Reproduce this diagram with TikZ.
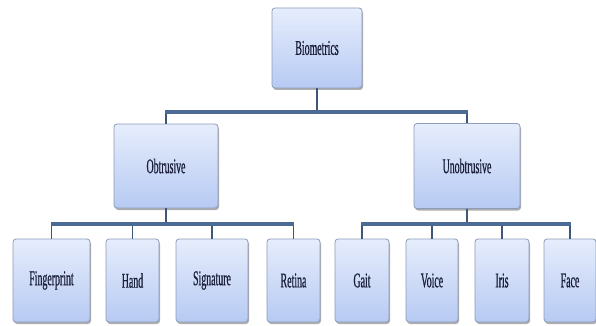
\documentclass[tikz,border=0pt]{standalone}
\usepackage{fontspec}
\newfontfamily\condfont[FakeStretch=0.47,FakeBold=0.6]{Liberation Serif}
\usetikzlibrary{shadows}
\definecolor{boxtop}{HTML}{E6EDFC}
\definecolor{boxbot}{HTML}{B7CAF3}
\definecolor{boxline}{HTML}{8C9CB8}
\definecolor{barcol}{HTML}{4C6B94}
\definecolor{vcol}{HTML}{3E5677}
\definecolor{txtcol}{HTML}{1A1F3A}
\tikzset{
  box/.style={rectangle, rounded corners=3pt, draw=boxline, line width=0.8pt,
    top color=boxtop, bottom color=boxbot,
    drop shadow={shadow xshift=1pt, shadow yshift=-2pt, opacity=0.45, fill=black!70},
    inner sep=0pt, font=\condfont\fontsize{21}{23}\selectfont, text=txtcol},
  hbar/.style={draw=barcol, line width=4pt},
  vbar/.style={draw=vcol, line width=1.8pt},
}
\begin{document}
\begin{tikzpicture}[x=1pt,y=1pt]
\useasboundingbox (0,0) rectangle (596,-326);
\coordinate (barT) at (0,-112);
\coordinate (barB) at (0,-224);
\node[box, minimum width=90pt, minimum height=80pt] (bio) at (317,-48) {Biometrics};
\node[box, minimum width=104pt, minimum height=84pt] (obt) at (166,-166) {Obtrusive};
\node[box, minimum width=106pt, minimum height=85pt] (unob) at (467,-166) {Unobtrusive};
\foreach \n/\t/\x/\w in {fp/Fingerprint/51.5/77, hand/Hand/132.5/53, sig/Signature/212/72, ret/Retina/293.5/53,
  gait/Gait/362/54, voice/Voice/432/52, iris/Iris/502/54, face/Face/570/52}{
  \node[box, minimum width=\w pt, minimum height=83pt] (\n) at (\x,-280.5) {\t};
}
\draw[vbar] (bio.south) -- (bio.south |- barT);
\draw[vbar] (obt.north |- barT) -- (obt.north);
\draw[vbar] (unob.north |- barT) -- (unob.north);
\draw[hbar] ([xshift=-0.9pt]obt.north |- barT) -- ([xshift=0.9pt]unob.north |- barT);
\draw[vbar] (obt.south) -- (obt.south |- barB);
\draw[vbar] (unob.south) -- (unob.south |- barB);
\foreach \n in {fp,hand,sig,ret,gait,voice,iris,face}{
  \draw[vbar] (\n.north |- barB) -- (\n.north);
}
\draw[hbar] ([xshift=-0.9pt]fp.north |- barB) -- ([xshift=0.9pt]ret.north |- barB);
\draw[hbar] ([xshift=-0.9pt]gait.north |- barB) -- ([xshift=0.9pt]face.north |- barB);
\end{tikzpicture}
\end{document}
